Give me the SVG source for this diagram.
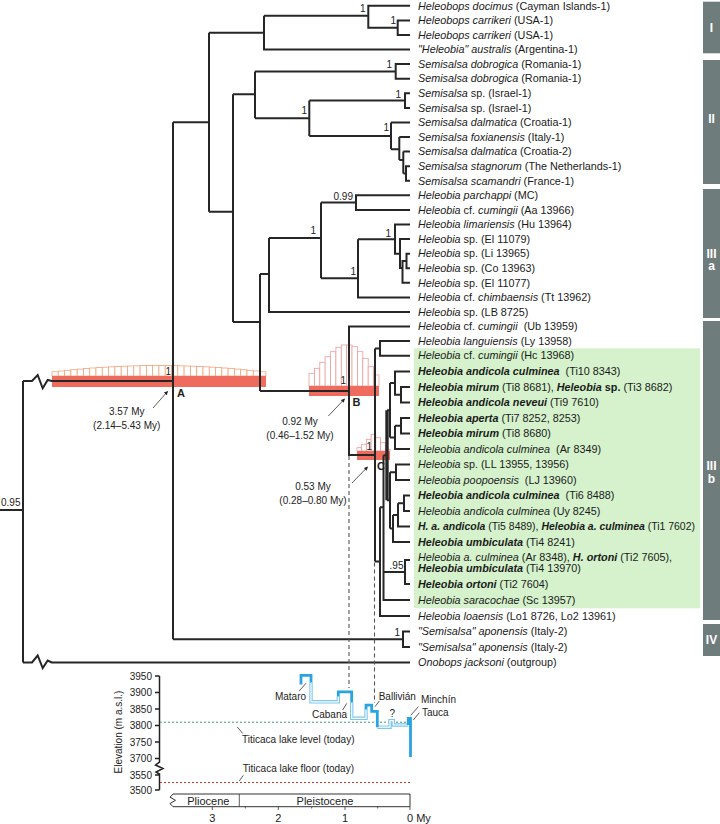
<svg xmlns="http://www.w3.org/2000/svg" width="720" height="824" viewBox="0 0 720 824">
<defs>
<style>
.t{font-family:"Liberation Sans",Arial,sans-serif;font-size:10.8px;fill:#1a1a1a}
.i{font-style:italic}
.b{font-weight:bold}
.s{font-family:"Liberation Sans",Arial,sans-serif;font-size:10px;fill:#222}
.e{text-anchor:end}
.m{text-anchor:middle}
.br{fill:none;stroke:#262626;stroke-width:2}
.thk{fill:none;stroke:#262626;stroke-width:3.4}
.cl{fill:#6f7c7c}
.cn{font-family:"Liberation Sans",Arial,sans-serif;font-size:12px;font-weight:bold;fill:#fff;text-anchor:middle}
.ha{fill:#fff;stroke:#f2a47c;stroke-width:0.8}
.hb{fill:#fff;stroke:#ee9c9c;stroke-width:0.8}
.hpd{fill:#ef6b5d}
.dash{fill:none;stroke:#555;stroke-width:1.1;stroke-dasharray:4 3}
.ld{fill:none;stroke:#333;stroke-width:0.8}
.ax{fill:none;stroke:#222;stroke-width:1.5}
.bd{fill:none;stroke:#7cc6ee;stroke-width:3.4}
.bw{fill:none;stroke:#fff;stroke-width:1.2}
.bs{fill:none;stroke:#2aa4e0;stroke-width:2.8}
</style>
<marker id="ah" viewBox="0 0 6 6" refX="5" refY="3" markerWidth="5" markerHeight="5" orient="auto"><path d="M0,0L6,3L0,6z" fill="#222"/></marker>
</defs>
<rect width="720" height="824" fill="#fff"/>

<rect x="414" y="348.3" width="286" height="260" fill="#d5f2cc"/>

<g id="clade-bars">
<rect class="cl" x="703" y="1.7" width="17" height="51.6"/>
<rect class="cl" x="703" y="60" width="17" height="124"/>
<rect class="cl" x="703" y="189" width="17" height="129"/>
<rect class="cl" x="703" y="321" width="17" height="299"/>
<rect class="cl" x="703" y="624" width="17" height="32"/>
<text class="cn" x="711.5" y="31.5">I</text>
<text class="cn" x="711.5" y="123.3">II</text>
<text class="cn" x="711.5" y="257.5">III</text>
<text class="cn" x="711.5" y="270">a</text>
<text class="cn" x="711.5" y="470">III</text>
<text class="cn" x="711.5" y="483">b</text>
<text class="cn" x="711.5" y="644.3">IV</text>
</g>

<g id="hpd-A">
<rect class="ha" x="52" y="371.8" width="6.3" height="4.2"/>
<rect class="ha" x="58.3" y="371" width="6.3" height="5"/>
<rect class="ha" x="64.6" y="370.3" width="6.3" height="5.7"/>
<rect class="ha" x="70.9" y="369.7" width="6.3" height="6.3"/>
<rect class="ha" x="77.2" y="369.1" width="6.3" height="6.9"/>
<rect class="ha" x="83.5" y="368.5" width="6.3" height="7.5"/>
<rect class="ha" x="89.7" y="368" width="6.3" height="8"/>
<rect class="ha" x="96" y="367.6" width="6.3" height="8.4"/>
<rect class="ha" x="102.3" y="367.2" width="6.3" height="8.8"/>
<rect class="ha" x="108.6" y="366.8" width="6.3" height="9.2"/>
<rect class="ha" x="114.9" y="366.5" width="6.3" height="9.5"/>
<rect class="ha" x="121.2" y="366.2" width="6.3" height="9.8"/>
<rect class="ha" x="127.5" y="366" width="6.3" height="10"/>
<rect class="ha" x="133.8" y="365.8" width="6.3" height="10.2"/>
<rect class="ha" x="140.1" y="365.6" width="6.3" height="10.4"/>
<rect class="ha" x="146.4" y="365.5" width="6.3" height="10.5"/>
<rect class="ha" x="152.6" y="365.5" width="6.3" height="10.5"/>
<rect class="ha" x="158.9" y="365.5" width="6.3" height="10.5"/>
<rect class="ha" x="165.2" y="365.5" width="6.3" height="10.5"/>
<rect class="ha" x="171.5" y="365.6" width="6.3" height="10.4"/>
<rect class="ha" x="177.8" y="365.8" width="6.3" height="10.2"/>
<rect class="ha" x="184.1" y="366" width="6.3" height="10"/>
<rect class="ha" x="190.4" y="366.2" width="6.3" height="9.8"/>
<rect class="ha" x="196.7" y="366.5" width="6.3" height="9.5"/>
<rect class="ha" x="203" y="366.8" width="6.3" height="9.2"/>
<rect class="ha" x="209.3" y="367.2" width="6.3" height="8.8"/>
<rect class="ha" x="215.5" y="367.6" width="6.3" height="8.4"/>
<rect class="ha" x="221.8" y="368" width="6.3" height="8"/>
<rect class="ha" x="228.1" y="368.5" width="6.3" height="7.5"/>
<rect class="ha" x="234.4" y="369.1" width="6.3" height="6.9"/>
<rect class="ha" x="240.7" y="369.7" width="6.3" height="6.3"/>
<rect class="ha" x="247" y="370.3" width="6.3" height="5.7"/>
<rect class="ha" x="253.3" y="371" width="6.3" height="5"/>
<rect class="ha" x="259.6" y="371.8" width="6.3" height="4.2"/>
<rect class="hpd" x="52" y="376" width="214" height="11"/>
</g>
<g id="hpd-B">
<rect class="hb" x="309" y="373.3" width="5.4" height="12.7"/>
<rect class="hb" x="314.4" y="368.3" width="5.4" height="17.7"/>
<rect class="hb" x="319.8" y="362.3" width="5.4" height="23.7"/>
<rect class="hb" x="325.1" y="356.7" width="5.4" height="29.3"/>
<rect class="hb" x="330.5" y="351.7" width="5.4" height="34.3"/>
<rect class="hb" x="335.9" y="347.3" width="5.4" height="38.7"/>
<rect class="hb" x="341.3" y="345" width="5.4" height="41"/>
<rect class="hb" x="346.7" y="345" width="5.4" height="41"/>
<rect class="hb" x="352" y="346.7" width="5.4" height="39.3"/>
<rect class="hb" x="357.4" y="351.7" width="5.4" height="34.3"/>
<rect class="hb" x="362.8" y="358.3" width="5.4" height="27.7"/>
<rect class="hb" x="368.2" y="366.7" width="5.4" height="19.3"/>
<rect class="hb" x="373.6" y="375" width="5.4" height="11"/>
<rect class="hpd" x="309" y="386" width="70" height="10"/>
</g>
<g id="hpd-C">
<rect class="hb" x="357" y="447.7" width="4.7" height="3.3"/>
<rect class="hb" x="361.7" y="444.3" width="4.7" height="6.7"/>
<rect class="hb" x="366.4" y="439.3" width="4.7" height="11.7"/>
<rect class="hb" x="371.1" y="434.3" width="4.7" height="16.7"/>
<rect class="hb" x="375.8" y="437.7" width="4.7" height="13.3"/>
<rect class="hb" x="380.6" y="442.7" width="4.7" height="8.3"/>
<rect class="hb" x="385.3" y="449.3" width="4.7" height="1.7"/>
<rect class="hpd" x="357" y="451" width="33" height="9"/>
</g>

<g id="connectors">
<path class="br" d="M0,510H23 M23,381V662.5 M23,381H32L37.7,375L42.7,388.3L47.7,380L51.7,381H173 M173,122.3V639.25 M173,122.3H209 M209,32.7V211.7 M209,211.7H233 M233,94.3V322 M233,322H260 M260,274V391 M260,391H349 M173,639.25H403 M410,631.5H403V647H410 M23,662.5H32L37.7,655.5L42.7,668L47.7,660.5L51.7,662.5H410"/>
<path class="br" d="M209,32.7H264 M264,15.7V49.5H410 M264,15.7H368.3 M410,5.8H368.3V27.7H397.7 M410,20.4H397.7V35H410"/>
<path class="br" d="M410,64.1H395.7V78.7H410 M395.7,71.4H255 M255,71.4V118.3 M255,94.3H233 M255,118.3H309.3 M309.3,100.6V136 M309.3,100.6H405 M410,93.3H405V107.9H410 M309.3,136H391 M391,122.4V149.3 M391,122.4H410 M391,149.3H399.3 M399.3,137V160 M399.3,137H410 M399.3,160H403.3 M403.3,151.6V173.5 M403.3,151.6H410 M403.3,173.5H406 M410,166.2H406V180.8H410"/>
<path class="br" d="M260,274H269 M269,238V312H410 M269,238H321 M321,202.6V278.3 M321,202.6H356 M410,195.3H356V209.9H410 M321,278.3H358 M358,239.3V297.4H410 M358,239.3H395 M410,224.5H395V253.7H400 M410,239.1H400V268H402.5 M406.5,261H402.5V282.8H410 M410,253.7H406.5V268.3H410"/>
<path class="br" d="M410,326.6H349V455H375 M375,348.4V561.6 M375,348.4H380 M410,341.1H380V355.7H410 M375,561.6H380 M380,507.2V616H410 M380,507.2H383.5 M383.5,455.3V600H410 M383.5,455.3H387 M383.5,572H405 M410,560H405V584H410"/>
<path class="thk" d="M387,410.25V500.3"/>
<path class="br" d="M387,410.25H390 M390,383.1V437.4 M390,383.1H395 M410,371.5H395V394.75H401 M410,387H401V402.5H410 M390,437.4H395 M395,425.75V449H410 M395,425.75H401 M410,418H401V433.5H410"/>
<path class="br" d="M387,500.3H390 M390,472.25V528.4 M390,472.25H396 M410,464.5H396V480H410 M390,528.4H393 M393,514.9V542H410 M393,514.9H398 M398,503.25V526.5H410 M398,503.25H404 M410,495.5H404V511H410"/>
<path class="dash" d="M349,456V688 M374.5,562.6V703"/>
<path class="ld" d="M153,408L167.5,391.5" marker-end="url(#ah)"/>
<path class="ld" d="M328.3,416L344.5,399" marker-end="url(#ah)"/>
<path class="ld" d="M352,483L367.5,467" marker-end="url(#ah)"/>
</g>

<g id="support">
<text class="s e" x="365.5" y="12">1</text>
<text class="s e" x="396" y="24.3">1</text>
<text class="s e" x="392" y="67.6">1</text>
<text class="s e" x="307" y="114.3">1</text>
<text class="s e" x="401" y="97.6">1</text>
<text class="s e" x="389" y="131.3">1</text>
<text class="s e" x="353" y="200.3">0.99</text>
<text class="s e" x="316" y="233.6">1</text>
<text class="s e" x="391" y="237">1</text>
<text class="s e" x="356" y="275.3">1</text>
<text class="s e" x="171" y="375.3">1</text>
<text class="s e" x="346" y="383.6">1</text>
<text class="s e" x="372" y="449.6">1</text>
<text class="s e" x="403.5" y="569">.95</text>
<text class="s e" x="400" y="636">1</text>
<text class="s" x="1" y="506">0.95</text>
</g>
<g id="node-A">
<text class="s b" x="177" y="397.3" style="font-size:11px">A</text>
<text class="s m" x="126.7" y="415.2">3.57 My</text>
<text class="s m" x="126.7" y="428.5">(2.14–5.43 My)</text>
</g>
<g id="node-B">
<text class="s b" x="352.5" y="405.7" style="font-size:11px">B</text>
<text class="s m" x="300" y="425.2">0.92 My</text>
<text class="s m" x="300" y="438.5">(0.46–1.52 My)</text>
</g>
<g id="node-C">
<text class="s b" x="377" y="470" style="font-size:11px">C</text>
<text class="s m" x="313" y="489.5">0.53 My</text>
<text class="s m" x="313" y="503.5">(0.28–0.80 My)</text>
</g>

<g id="taxa">
<g id="t00"><text class="t" x="418" y="9.5"><tspan class="i">Heleobops docimus</tspan> (Cayman Islands-1)</text></g>
<g id="t01"><text class="t" x="418" y="24.1"><tspan class="i">Heleobops carrikeri</tspan> (USA-1)</text></g>
<g id="t02"><text class="t" x="418" y="38.7"><tspan class="i">Heleobops carrikeri</tspan> (USA-1)</text></g>
<g id="t03"><text class="t" x="418" y="53.2"><tspan class="i">"Heleobia" australis</tspan> (Argentina-1)</text></g>
<g id="t04"><text class="t" x="418" y="67.8"><tspan class="i">Semisalsa dobrogica</tspan> (Romania-1)</text></g>
<g id="t05"><text class="t" x="418" y="82.4"><tspan class="i">Semisalsa dobrogica</tspan> (Romania-1)</text></g>
<g id="t06"><text class="t" x="418" y="97"><tspan class="i">Semisalsa</tspan> sp. (Israel-1)</text></g>
<g id="t07"><text class="t" x="418" y="111.6"><tspan class="i">Semisalsa</tspan> sp. (Israel-1)</text></g>
<g id="t08"><text class="t" x="418" y="126.1"><tspan class="i">Semisalsa dalmatica</tspan> (Croatia-1)</text></g>
<g id="t09"><text class="t" x="418" y="140.7"><tspan class="i">Semisalsa foxianensis</tspan> (Italy-1)</text></g>
<g id="t10"><text class="t" x="418" y="155.3"><tspan class="i">Semisalsa dalmatica</tspan> (Croatia-2)</text></g>
<g id="t11"><text class="t" x="418" y="169.9"><tspan class="i">Semisalsa stagnorum</tspan> (The Netherlands-1)</text></g>
<g id="t12"><text class="t" x="418" y="184.5"><tspan class="i">Semisalsa scamandri</tspan> (France-1)</text></g>
<g id="t13"><text class="t" x="418" y="199"><tspan class="i">Heleobia parchappi</tspan> (MC)</text></g>
<g id="t14"><text class="t" x="418" y="213.6"><tspan class="i">Heleobia</tspan> cf. <tspan class="i">cumingii</tspan> (Aa 13966)</text></g>
<g id="t15"><text class="t" x="418" y="228.2"><tspan class="i">Heleobia limariensis</tspan> (Hu 13964)</text></g>
<g id="t16"><text class="t" x="418" y="242.8"><tspan class="i">Heleobia</tspan> sp. (El 11079)</text></g>
<g id="t17"><text class="t" x="418" y="257.4"><tspan class="i">Heleobia</tspan> sp. (Li 13965)</text></g>
<g id="t18"><text class="t" x="418" y="272"><tspan class="i">Heleobia</tspan> sp. (Co 13963)</text></g>
<g id="t19"><text class="t" x="418" y="286.5"><tspan class="i">Heleobia</tspan> sp. (El 11077)</text></g>
<g id="t20"><text class="t" x="418" y="301.1"><tspan class="i">Heleobia</tspan> cf. <tspan class="i">chimbaensis</tspan> (Tt 13962)</text></g>
<g id="t21"><text class="t" x="418" y="315.7"><tspan class="i">Heleobia</tspan> sp. (LB 8725)</text></g>
<g id="t22"><text class="t" x="418" y="330.3"><tspan class="i">Heleobia</tspan> cf. <tspan class="i">cumingii</tspan>&#160; (Ub 13959)</text></g>
<g id="t23"><text class="t" x="418" y="344.8"><tspan class="i">Heleobia languiensis</tspan> (Ly 13958)</text></g>
<g id="t24"><text class="t" x="418" y="359.4"><tspan class="i">Heleobia</tspan> cf. <tspan class="i">cumingii</tspan> (Hc 13968)</text></g>
<g id="t25"><text class="t" x="418" y="375.2"><tspan class="i b">Heleobia andicola culminea</tspan>&#160; (Ti10 8343)</text></g>
<g id="t26"><text class="t" x="418" y="390.7"><tspan class="i b">Heleobia mirum</tspan> (Ti8 8681), <tspan class="i b">Heleobia</tspan> <tspan class="b">sp.</tspan> (Ti3 8682)</text></g>
<g id="t27"><text class="t" x="418" y="406.2"><tspan class="i b">Heleobia andicola neveui</tspan> (Ti9 7610)</text></g>
<g id="t28"><text class="t" x="418" y="421.7"><tspan class="i b">Heleobia aperta</tspan> (Ti7 8252, 8253)</text></g>
<g id="t29"><text class="t" x="418" y="437.2"><tspan class="i b">Heleobia mirum</tspan> (Ti8 8680)</text></g>
<g id="t30"><text class="t" x="418" y="452.7"><tspan class="i">Heleobia andicola culminea</tspan>&#160; (Ar 8349)</text></g>
<g id="t31"><text class="t" x="418" y="468.2"><tspan class="i">Heleobia</tspan> sp. (LL 13955, 13956)</text></g>
<g id="t32"><text class="t" x="418" y="483.7"><tspan class="i">Heleobia poopoensis</tspan>&#160; (LJ 13960)</text></g>
<g id="t33"><text class="t" x="418" y="499.2"><tspan class="i b">Heleobia andicola culminea</tspan>&#160; (Ti6 8488)</text></g>
<g id="t34"><text class="t" x="418" y="514.7"><tspan class="i">Heleobia andicola culminea</tspan> (Uy 8245)</text></g>
<g id="t35"><text class="t" x="418" y="530.2" textLength="277" lengthAdjust="spacingAndGlyphs"><tspan class="i b">H. a. andicola</tspan> (Ti5 8489), <tspan class="i b">Heleobia a. culminea</tspan> (Ti1 7602)</text></g>
<g id="t36"><text class="t" x="418" y="545.7"><tspan class="i b">Heleobia umbiculata</tspan> (Ti4 8241)</text></g>
<g id="t37"><text class="t" x="418" y="560.5"><tspan class="i">Heleobia a. culminea</tspan> (Ar 8348), <tspan class="i b">H. ortoni</tspan> (Ti2 7605),</text><text class="t" x="418" y="572"><tspan class="i b">Heleobia umbiculata</tspan> (Ti4 13970)</text></g>
<g id="t38"><text class="t" x="418" y="587.7"><tspan class="i b">Heleobia ortoni</tspan> (Ti2 7604)</text></g>
<g id="t39"><text class="t" x="418" y="603.7"><tspan class="i">Heleobia saracochae</tspan> (Sc 13957)</text></g>
<g id="t40"><text class="t" x="418" y="619.7"><tspan class="i">Heleobia loaensis</tspan> (Lo1 8726, Lo2 13961)</text></g>
<g id="t41"><text class="t" x="418" y="635.2"><tspan class="i">"Semisalsa" aponensis</tspan> (Italy-2)</text></g>
<g id="t42"><text class="t" x="418" y="650.7"><tspan class="i">"Semisalsa" aponensis</tspan> (Italy-2)</text></g>
<g id="t43"><text class="t" x="418" y="666.2"><tspan class="i">Onobops jacksoni</tspan> (outgroup)</text></g>
</g>

<g id="chart">
<path class="ax" d="M159.5,676V762L155.5,765L163,768.5L156,772L159.5,774V790 M155,676H159.5 M155,692.5H159.5 M155,709H159.5 M155,725.5H159.5 M155,742H159.5 M155,758.5H159.5 M155,775H159.5 M155,790H159.5"/>
<text class="s e" x="152" y="679.5">3950</text>
<text class="s e" x="152" y="696">3900</text>
<text class="s e" x="152" y="712.5">3850</text>
<text class="s e" x="152" y="729">3800</text>
<text class="s e" x="152" y="745.5">3750</text>
<text class="s e" x="152" y="762">3700</text>
<text class="s e" x="152" y="778.5">3550</text>
<text class="s e" x="152" y="793.5">3500</text>
<text class="s m" transform="translate(121.8,732) rotate(-90)">Elevation (m a.s.l.)</text>
<path d="M160,722.2H410" fill="none" stroke="#3a9a78" stroke-width="1" stroke-dasharray="2 2"/>
<path d="M160,782.5H410" fill="none" stroke="#c0392b" stroke-width="1" stroke-dasharray="2 2"/>
<text class="s m" x="298.3" y="742.9">Titicaca lake level (today)</text>
<path class="ld" d="M237.3,727L242.7,733.4"/>
<text class="s m" x="298.3" y="771.5">Titicaca lake floor (today)</text>
<path class="ld" d="M239.3,781L243.3,775.3"/>
<path class="bd" d="M311,682.6V701.8H338.3V696.5 M351.7,702.5V718.3H366V709.5 M377.3,727.2H390V720.6H393.3V725H408.3"/>
<path class="bw" d="M311,682.6V701.8H338.3V696.5 M351.7,702.5V718.3H366V709.5 M377.3,727.2H390V720.6H393.3V725H408.3"/>
<path class="bs" d="M301,684.6V675.4H311V682.6 M338.3,696.5V691.9H351.7V702.5 M366,709.5V705.1H371.7V711.4H377.3V727.2 M408.3,725V718.3H410.5V757"/>
<text class="s m" x="290.5" y="699.5">Mataro</text>
<path class="ld" d="M299,691.2L306,683.2"/>
<text class="s m" x="329.5" y="718">Cabana</text>
<path class="ld" d="M342.7,710L346.7,703.4"/>
<text class="s m" x="397.3" y="699.5">Ballivián</text>
<path class="ld" d="M375,706.7L379.3,701"/>
<text class="s m" x="392.3" y="717.2">?</text>
<text class="s" x="421" y="702.7">Minchín</text>
<path class="ld" d="M410.7,715.4L418.3,706.7"/>
<text class="s" x="422" y="716.2">Tauca</text>
<path class="ld" d="M413.3,720L419.3,712.7"/>
<path fill="#fff" stroke="#333" stroke-width="1" d="M173,794H410V806.7H173L170,803.5L175.5,800.3L170,797.2Z"/>
<path class="ld" d="M239.3,794V806.7 M212.3,806.7V810 M278.3,806.7V810 M345,806.7V810 M410,806.7V810 M245.3,806.7V808.5 M311.7,806.7V808.5 M377.7,806.7V808.5"/>
<text class="s m" x="208.3" y="804.5" style="font-size:11px">Pliocene</text>
<text class="s m" x="325" y="804.5" style="font-size:11px">Pleistocene</text>
<text class="s m" x="212.3" y="822" style="font-size:11px">3</text>
<text class="s m" x="278.3" y="822" style="font-size:11px">2</text>
<text class="s m" x="345" y="822" style="font-size:11px">1</text>
<text class="s" x="407" y="822" style="font-size:11px">0 My</text>
</g>
</svg>
